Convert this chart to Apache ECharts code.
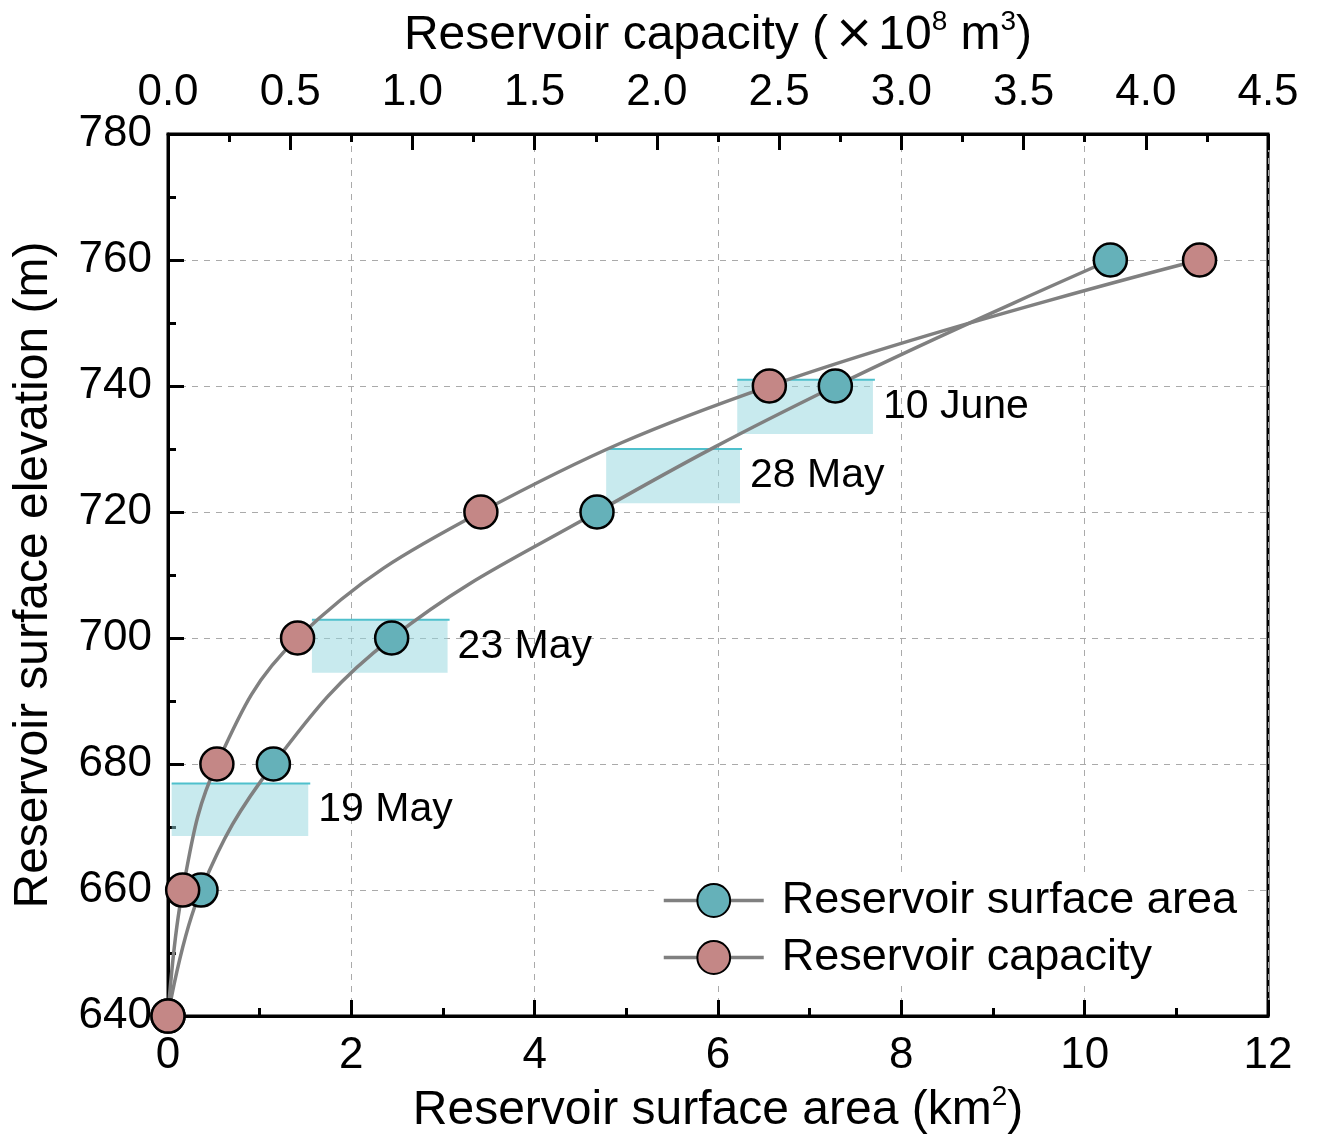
<!DOCTYPE html>
<html>
<head>
<meta charset="utf-8">
<script src="https://cdn.jsdelivr.net/npm/echarts@6/dist/echarts.min.js"></script>
<style>
html,body{margin:0;padding:0;background:#fff;}
#chart{width:1318px;height:1140px;}
</style>
</head>
<body>
<div id="chart"></div>
<script>
// ---- data ----
const elevation = [640, 660, 680, 700, 720, 740, 760];           // m
const surfaceArea = [0, 0.36, 1.15, 2.44, 4.68, 7.28, 10.28];    // km2
const capacity = [0, 0.06, 0.20, 0.53, 1.28, 2.46, 4.22];        // x10^8 m3

const periodLabels = ['19 May', '23 May', '28 May', '10 June'];
const periodAreaStart = [0.04, 1.57, 4.78, 6.21];   // km2
const periodAreaEnd = [1.53, 3.05, 6.24, 7.69];     // km2
const periodTopElev = [676.9, 702.9, 730.0, 741.0]; // m
const periodBottomElev = [668.6, 694.5, 721.4, 732.4]; // m

const FONT = '"Liberation Sans", Arial, sans-serif';

const areaData = surfaceArea.map((v, i) => [v, elevation[i]]);
const capData = capacity.map((v, i) => [v, elevation[i]]);
const periodData = periodLabels.map((l, i) => [periodAreaStart[i], periodAreaEnd[i], periodTopElev[i], periodBottomElev[i]]);

const chart = echarts.init(document.getElementById('chart'), null, {renderer: 'canvas'});

const supRich = {
  a: {fontSize: 48, fontFamily: FONT, color: '#000', lineHeight: 56},
  x: {fontSize: 48, fontFamily: '"DejaVu Sans", sans-serif', color: '#000', lineHeight: 56, padding: [0, 4, 0, 6]},
  s: {fontSize: 28, fontFamily: FONT, color: '#000', lineHeight: 28, verticalAlign: 'top'}
};

const option = {
  backgroundColor: '#fff',
  animation: false,
  grid: {left: 168, right: 50, top: 134, bottom: 120, show: true, borderColor: '#000', borderWidth: 3, backgroundColor: 'transparent'},
  legend: {
    orient: 'vertical',
    left: 657, top: 873,
    padding: 5,
    backgroundColor: '#fff',
    itemWidth: 100, itemHeight: 41, itemGap: 12,
    lineStyle: {color: '#808080', width: 3.5},
    textStyle: {fontSize: 45, fontFamily: FONT, color: '#000', lineHeight: 45, padding: [0, 0, 0, 13]},
    data: ['Reservoir surface area', 'Reservoir capacity']
  },
  xAxis: [
    {
      type: 'value', position: 'bottom', min: 0, max: 12, interval: 2,
      name: '{a|Reservoir surface area (km}{s|2}{a|)}',
      nameLocation: 'middle', nameGap: 62,
      nameTextStyle: {rich: supRich},
      axisLine: {show: true, lineStyle: {color: '#000', width: 3}},
      axisTick: {show: true, inside: true, length: 16, lineStyle: {color: '#000', width: 3}},
      minorTick: {show: true, splitNumber: 2, length: 8, lineStyle: {color: '#000', width: 3}},
      axisLabel: {fontSize: 44, fontFamily: FONT, color: '#000', margin: 18},
      splitLine: {show: true, lineStyle: {color: '#aaaaaa', width: 1, type: [6, 6]}}
    },
    {
      type: 'value', position: 'top', min: 0, max: 4.5, interval: 0.5,
      name: '{a|Reservoir capacity (}{x|×}{a|10}{s|8}{a| m}{s|3}{a|)}',
      nameLocation: 'middle', nameGap: 70,
      nameTextStyle: {rich: supRich},
      axisLine: {show: true, lineStyle: {color: '#000', width: 3}},
      axisTick: {show: true, inside: true, length: 16, lineStyle: {color: '#000', width: 3}},
      minorTick: {show: true, splitNumber: 2, length: 8, lineStyle: {color: '#000', width: 3}},
      axisLabel: {fontSize: 44, fontFamily: FONT, color: '#000', margin: 19, formatter: v => v.toFixed(1)},
      splitLine: {show: false}
    }
  ],
  yAxis: [
    {
      type: 'value', min: 640, max: 780, interval: 20,
      name: 'Reservoir surface elevation (m)',
      nameLocation: 'middle', nameGap: 110,
      nameTextStyle: {fontSize: 48, fontFamily: FONT, color: '#000'},
      axisLine: {show: true, lineStyle: {color: '#000', width: 3}},
      axisTick: {show: true, inside: true, length: 16, lineStyle: {color: '#000', width: 3}},
      minorTick: {show: true, splitNumber: 2, length: 8, lineStyle: {color: '#000', width: 3}},
      axisLabel: {fontSize: 44, fontFamily: FONT, color: '#000', margin: 16},
      splitLine: {show: true, lineStyle: {color: '#aaaaaa', width: 1, type: [6, 6]}}
    }
  ],
  series: [
    {
      type: 'custom',
      name: 'periods',
      xAxisIndex: 0, yAxisIndex: 0,
      z: 1,
      clip: false,
      encode: {x: [0, 1], y: [2, 3]},
      data: periodData,
      renderItem: function (params, api) {
        const p0 = api.coord([api.value(0), api.value(2)]);
        const p1 = api.coord([api.value(1), api.value(3)]);
        return {
          type: 'group',
          children: [
            {type: 'rect', shape: {x: p0[0], y: p0[1], width: p1[0] - p0[0], height: p1[1] - p0[1]},
             style: {fill: 'rgba(145,213,221,0.5)'}},
            {type: 'line', shape: {x1: p0[0], y1: p0[1], x2: p1[0] + 2, y2: p0[1]},
             style: {stroke: '#4fc0cc', lineWidth: 2}},
            {type: 'text', x: p1[0] + 10, y: (p0[1] + p1[1]) / 2,
             style: {text: periodLabels[params.dataIndex], fontSize: 41, fontFamily: FONT, fill: '#000', verticalAlign: 'middle', align: 'left'}}
          ]
        };
      }
    },
    {
      type: 'line', name: 'Reservoir surface area',
      xAxisIndex: 0, yAxisIndex: 0, z: 3, clip: false,
      data: areaData,
      smooth: 0.4,
      symbol: 'circle', symbolSize: 33,
      lineStyle: {color: '#808080', width: 3.5},
      itemStyle: {color: '#65b1b9', borderColor: '#000', borderWidth: 2.5}
    },
    {
      type: 'line', name: 'Reservoir capacity',
      xAxisIndex: 1, yAxisIndex: 0, z: 3, clip: false,
      data: capData,
      smooth: 0.4,
      symbol: 'circle', symbolSize: 33,
      lineStyle: {color: '#808080', width: 3.5},
      itemStyle: {color: '#c48786', borderColor: '#000', borderWidth: 2.5}
    }
  ]
};
chart.setOption(option);
</script>
</body>
</html>
